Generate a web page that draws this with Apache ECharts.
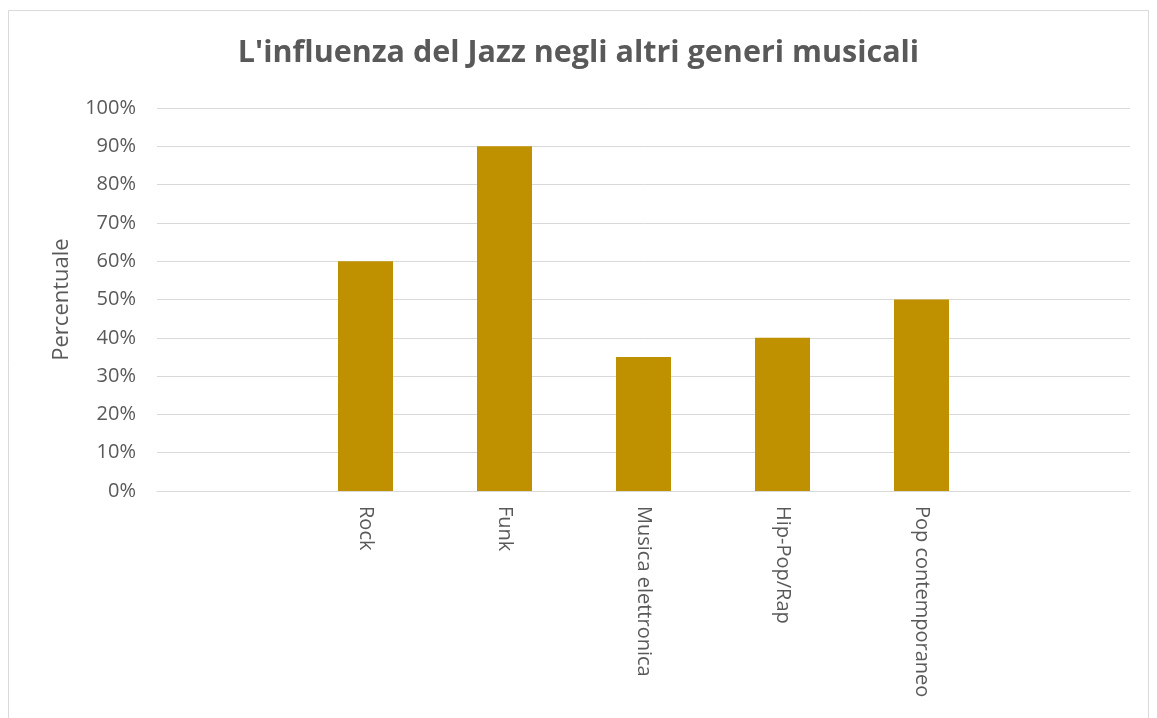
<!DOCTYPE html>
<html>
<head>
<meta charset="utf-8">
<script src="https://cdn.jsdelivr.net/npm/echarts@6/dist/echarts.min.js"></script>
<style>
html,body{margin:0;padding:0;background:#fff;}
#chart{width:1157px;height:718px;}
</style>
</head>
<body>
<div id="chart"></div>
<script>
const categories = ['', 'Rock', 'Funk', 'Musica elettronica', 'Hip-Pop/Rap', 'Pop contemporaneo', ''];
const values = [null, 60, 90, 35, 40, 50, null];
const yTicks = [0, 10, 20, 30, 40, 50, 60, 70, 80, 90, 100];
const titleText = "L'influenza del Jazz negli altri generi musicali";
const yName = 'Percentuale';

const chart = echarts.init(document.getElementById('chart'));
chart.setOption({
  animation: false,
  backgroundColor: '#ffffff',
  graphic: [{
    type: 'rect',
    shape: {x: 8.5, y: 10.5, width: 1140, height: 740},
    style: {fill: 'none', stroke: '#d9d9d9', lineWidth: 1},
    silent: true
  }],
  title: {
    text: titleText,
    left: 'center',
    top: 33,
    textStyle: {fontFamily: 'Open Sans', fontWeight: 'bold', fontSize: 30.5, color: '#595959'}
  },
  grid: {left: 157, right: 27, top: 108, bottom: 227},
  xAxis: {
    type: 'category',
    data: categories,
    axisTick: {show: false},
    axisLine: {lineStyle: {color: '#d9d9d9', width: 1}},
    axisLabel: {rotate: -90, color: '#595959', fontFamily: 'Open Sans', fontSize: 20, margin: 15, interval: 0}
  },
  yAxis: {
    type: 'value',
    min: yTicks[0],
    max: yTicks[yTicks.length - 1],
    interval: 10,
    name: yName,
    nameLocation: 'middle',
    nameGap: 84,
    nameRotate: 90,
    nameTextStyle: {color: '#595959', fontFamily: 'Open Sans', fontSize: 22},
    axisLine: {show: false},
    axisTick: {show: false},
    splitLine: {lineStyle: {color: '#d9d9d9', width: 1}},
    axisLabel: {formatter: '{value}%', color: '#595959', fontFamily: 'Open Sans', fontSize: 20, margin: 21}
  },
  series: [{
    type: 'bar',
    data: values,
    barWidth: 55,
    itemStyle: {color: '#BF9000'}
  }]
});
</script>
</body>
</html>
